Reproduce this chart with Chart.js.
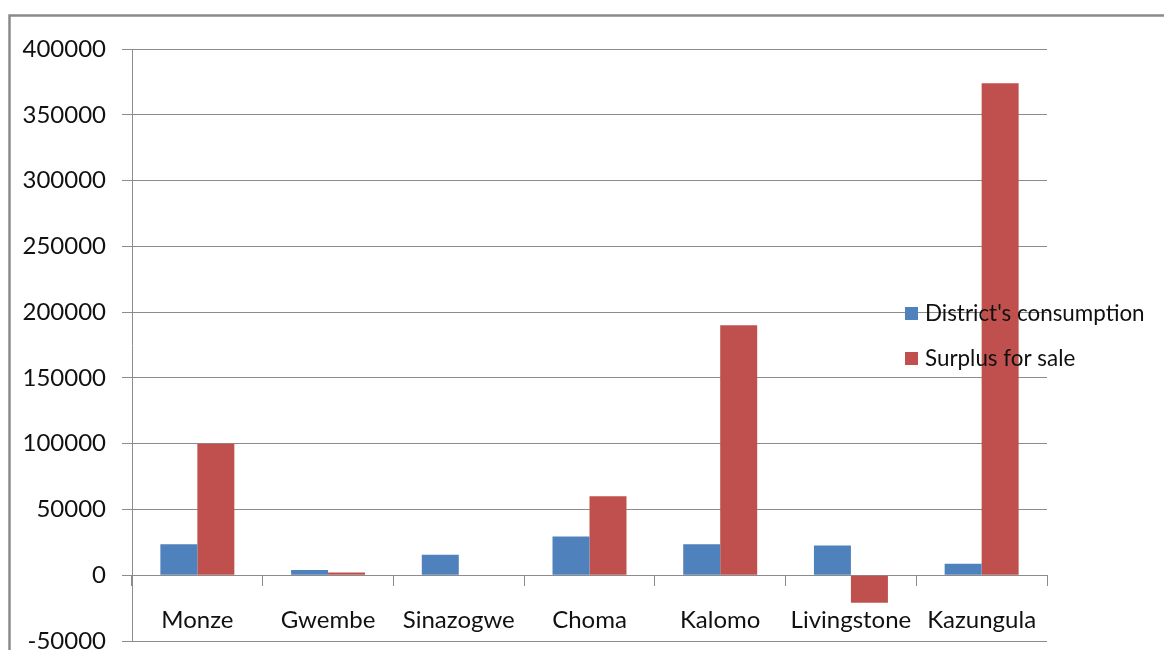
<!DOCTYPE html>
<html>
<head>
<meta charset="utf-8">
<script src="https://cdn.jsdelivr.net/npm/chart.js@4/dist/chart.umd.min.js"></script>
<style>
  html, body { margin: 0; padding: 0; background: #ffffff; overflow: hidden; }
  #wrap { position: absolute; left: 0; top: 0; width: 1164px; height: 650px; }
</style>
</head>
<body>
<div id="wrap"><canvas id="c" width="1164" height="650"></canvas></div>
<script>
// District maize figures
const categories = ['Monze', 'Gwembe', 'Sinazogwe', 'Choma', 'Kalomo', 'Livingstone', 'Kazungula'];
const consumption = [23500, 4000, 15500, 29500, 23500, 22500, 8700];
const surplus = [100000, 2000, 0, 60000, 190000, -21000, 374000];
const seriesNames = ["District's consumption", 'Surplus for sale'];
const yTicks = [-50000, 0, 50000, 100000, 150000, 200000, 250000, 300000, 350000, 400000];

const FONT = 'Lato, "Open Sans", sans-serif';
const GRID = '#8c8c8c';
const TEXT = '#111111';

// Outer frame of the chart object
const framePlugin = {
  id: 'frame',
  beforeDraw(chart) {
    const ctx = chart.ctx;
    ctx.save();
    ctx.fillStyle = '#ffffff';
    ctx.fillRect(0, 0, chart.width, chart.height);
    ctx.strokeStyle = '#8a8a8a';
    ctx.lineWidth = 2.5;
    ctx.strokeRect(9.5, 15.5, chart.width + 40, chart.height + 40);
    ctx.restore();
  }
};

// Legend drawn on top of the plot, to the right
const legendPlugin = {
  id: 'sideLegend',
  afterDraw(chart) {
    const ctx = chart.ctx;
    ctx.save();
    ctx.font = '22.4px ' + FONT;
    ctx.textBaseline = 'middle';
    ctx.textAlign = 'left';
    const x = 905, y0 = 313, gap = 45;
    chart.data.datasets.forEach((ds, i) => {
      const y = y0 + i * gap;
      ctx.fillStyle = ds.backgroundColor;
      ctx.fillRect(x, y - 6, 13, 13);
      ctx.fillStyle = TEXT;
      ctx.fillText(ds.label, x + 20, y + 1);
    });
    ctx.restore();
  }
};

new Chart(document.getElementById('c'), {
  type: 'bar',
  data: {
    labels: categories,
    datasets: [
      { label: seriesNames[0], data: consumption, backgroundColor: '#4F81BD' },
      { label: seriesNames[1], data: surplus, backgroundColor: '#C0504D' }
    ]
  },
  options: {
    responsive: false,
    devicePixelRatio: 1,
    animation: false,
    layout: { padding: { left: 0, top: 49, right: 117, bottom: 9 } },
    datasets: { bar: { categoryPercentage: 0.566, barPercentage: 1.0 } },
    plugins: { legend: { display: false }, tooltip: { enabled: false } },
    scales: {
      y: {
        min: -50000,
        max: 400000,
        afterBuildTicks(scale) { scale.ticks = yTicks.map(v => ({ value: v })); },
        afterFit(scale) {
          scale.width = 132;
          scale.paddingTop = 0;
          scale.paddingBottom = 0;
        },
        ticks: {
          font: { family: FONT, size: 24 },
          color: TEXT,
          padding: 16,
          callback: v => String(v)
        },
        grid: { color: GRID, lineWidth: 1, tickLength: 10, drawTicks: true },
        border: { display: true, color: GRID, width: 1 }
      },
      x: {
        position: { y: 0 },
        afterFit(scale) {
          scale.paddingLeft = 0;
          scale.paddingRight = 0;
        },
        ticks: {
          font: { family: FONT, size: 24 },
          color: TEXT,
          padding: 21,
          maxRotation: 0,
          autoSkip: false
        },
        grid: { offset: true, drawOnChartArea: false, drawTicks: true, tickLength: 10, color: GRID },
        border: { display: true, color: GRID, width: 1 }
      }
    }
  },
  plugins: [framePlugin, legendPlugin]
});
</script>
</body>
</html>
